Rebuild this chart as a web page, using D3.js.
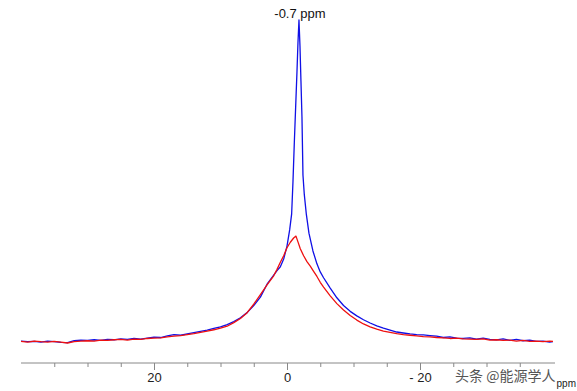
<!DOCTYPE html>
<html><head><meta charset="utf-8">
<script src="https://cdn.jsdelivr.net/npm/d3@7"></script>
<style>html,body{margin:0;padding:0;background:#fff;}svg{display:block;}</style>
</head><body>
<svg id="c" width="577" height="391"></svg>
<script>
// chemical shift (ppm) of sampled points and intensities (arbitrary units)
const blueShift = [40,39,38,37,36,35,34,33,32,31,30,29,28,27,26,25,24,23,22,21,20,19,18,17,16,15,14,13,12,11,10,9,8,7,6,5,4,3,2.5,2,1.5,1,0.5,0,-0.4,-0.7,-0.9,-1.1,-1.3,-1.5,-1.65,-1.8,-1.95,-2.1,-2.25,-2.4,-2.6,-2.9,-3.3,-3.9,-4.5,-5,-5.5,-6.5,-7.5,-8.5,-9.5,-10.5,-11.5,-12.5,-13.5,-14.5,-15.5,-16.5,-17.5,-18.5,-19.5,-20.5,-21.5,-22.5,-23.5,-24.5,-25.5,-26.5,-27.5,-28.5,-29.5,-30.5,-31.5,-32.5,-33.5,-34.5,-35.5,-36.5,-37.5,-38.5,-39.5,-40];
const blueValues = [0.6,0.4,0.5,0.3,0.6,0.4,0.2,0.1,0.7,0.9,0.8,1.0,0.8,1.1,1.0,1.3,1.1,1.4,1.2,1.5,1.8,1.7,2.2,2.6,2.4,2.8,3.2,3.6,4.0,4.5,5.0,5.7,6.6,7.8,9.4,11.6,14.2,18.2,19.6,21.0,22.4,23.6,26.0,30.0,35.0,40.0,50.0,62,73,84,93,100,92,81,70,52,46,40,34,28.5,24.5,22.0,20.2,17.0,14.0,11.6,9.8,8.4,7.2,6.2,5.3,4.6,4.0,3.4,3.1,2.8,2.6,2.5,2.3,2.1,1.7,1.9,1.5,1.4,1.6,1.2,1.5,1.1,1.0,1.3,0.8,1.1,0.7,0.9,0.5,0.6,0.3,0.4];
const redShift = [40,39,38,37,36,35,34,33,32,31,30,29,28,27,26,25,24,23,22,21,20,19,18,17,16,15,14,13,12,11,10,9,8,7,6,5,4,3,2,1.5,1,0.5,0,-0.5,-1,-1.35,-1.7,-2,-2.5,-3,-3.5,-4,-4.5,-5,-5.5,-6.5,-7.5,-8.5,-9.5,-10.5,-11.5,-12.5,-13.5,-14.5,-15.5,-16.5,-17.5,-18.5,-19.5,-20.5,-21.5,-22.5,-23.5,-24.5,-25.5,-26.5,-27.5,-28.5,-29.5,-30.5,-31.5,-32.5,-33.5,-34.5,-35.5,-36.5,-37.5,-38.5,-39.5,-40];
const redValues = [0.5,0.3,0.6,0.4,0.3,0.5,0.3,0.0,0.4,0.6,0.7,0.6,0.9,0.8,1.0,1.1,0.9,1.2,1.1,1.4,1.5,1.6,1.9,2.1,2.3,2.6,2.9,3.3,3.7,4.1,4.6,5.2,6.3,7.6,9.4,12.0,15.0,18.0,20.8,22.8,25.0,27.0,29.5,31.2,32.5,33.1,31.0,29.2,27.0,25.2,23.8,22.2,20.6,18.8,17.3,14.6,12.2,10.2,8.5,7.1,5.9,5.0,4.3,3.7,3.3,2.9,2.6,2.4,2.2,2.0,1.9,1.7,1.6,1.4,1.5,1.3,1.2,1.1,1.3,0.9,1.0,0.8,0.9,0.6,0.8,0.5,0.6,0.4,0.6,0.5];
const majorTicks = [20, 0, -20];
const majorTickLabels = ["20", "0", "- 20"];
const minorTicks = [35,30,25,15,10,5,-5,-10,-15,-25,-30,-35];
const peakLabel = "-0.7 ppm";
const peakShift = -1.8;
const axisTitle = "ppm";
const watermark = "头条 @能源学人";

const svg = d3.select("#c");
const x = d3.scaleLinear().domain([40, -40]).range([21, 553]);
const y = d3.scaleLinear().domain([0, 100]).range([343, 20]);
const axisY = 363;

const line = d3.line().x(d => x(d[0])).y(d => y(d[1]));
const blue = blueShift.map((s, i) => [s, blueValues[i]]);
const red = redShift.map((s, i) => [s, redValues[i]]);

svg.append("path").datum(blue).attr("d", line).attr("fill", "none")
  .attr("stroke", "#1010e6").attr("stroke-width", 1.3).attr("stroke-linejoin", "round");
svg.append("path").datum(red).attr("d", line).attr("fill", "none")
  .attr("stroke", "#ee1010").attr("stroke-width", 1.3).attr("stroke-linejoin", "round");

// axis
const ax = svg.append("g").attr("transform", `translate(0,${axisY})`);
ax.append("line").attr("x1", 21).attr("x2", 555).attr("y1", 0).attr("y2", 0)
  .attr("stroke", "#888").attr("stroke-width", 1);
ax.selectAll("line.minor").data(minorTicks).join("line").attr("class", "minor")
  .attr("x1", d => x(d) + 0.5).attr("x2", d => x(d) + 0.5).attr("y1", 0).attr("y2", 4)
  .attr("stroke", "#888");
ax.selectAll("line.major").data(majorTicks).join("line").attr("class", "major")
  .attr("x1", d => x(d) + 0.5).attr("x2", d => x(d) + 0.5).attr("y1", 0).attr("y2", 7)
  .attr("stroke", "#888");
ax.selectAll("text.lab").data(majorTicks).join("text").attr("class", "lab")
  .attr("x", d => x(d) + 0.5).attr("y", 19).attr("text-anchor", "middle")
  .attr("font-family", "Liberation Sans, Arial, sans-serif").attr("font-size", 13)
  .attr("fill", "#222").text((d, i) => majorTickLabels[i]);

svg.append("text").attr("x", 576).attr("y", 387).attr("text-anchor", "end")
  .attr("font-family", "Liberation Sans, Arial, sans-serif").attr("font-size", 10)
  .attr("fill", "#222").text(axisTitle);

svg.append("text").attr("x", 455).attr("y", 381)
  .attr("font-family", "Noto Sans CJK SC, sans-serif").attr("font-size", 14)
  .attr("fill", "#555").attr("stroke", "#fff").attr("stroke-width", 2.5)
  .attr("paint-order", "stroke").text(watermark);

svg.append("text").attr("x", x(peakShift) + 1).attr("y", 18).attr("text-anchor", "middle")
  .attr("font-family", "Liberation Sans, Arial, sans-serif").attr("font-size", 13)
  .attr("fill", "#111").text(peakLabel);
</script>
</body></html>
